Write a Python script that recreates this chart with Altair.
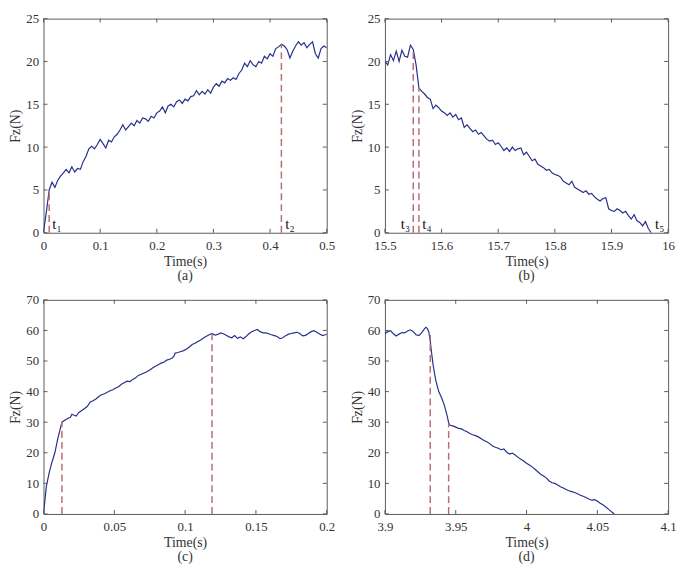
import altair as alt
import pandas as pd

FONT = "Liberation Serif"
LINE = "#27308a"
DASH = "#bb6e72"
FRAME = "#5a5a5a"
TXT = "#333333"
W, H = 287, 217

# ---------------- panel (a) ----------------
a_time = [0.000, 0.005, 0.010, 0.015, 0.020, 0.025, 0.030, 0.035, 0.040, 0.045,
          0.050, 0.055, 0.060, 0.065, 0.070, 0.075, 0.080, 0.085, 0.090, 0.095,
          0.100, 0.105, 0.110, 0.115, 0.120, 0.125, 0.130, 0.135, 0.140, 0.145,
          0.150, 0.155, 0.160, 0.165, 0.170, 0.175, 0.180, 0.185, 0.190, 0.195,
          0.200, 0.205, 0.210, 0.215, 0.220, 0.225, 0.230, 0.235, 0.240, 0.245,
          0.250, 0.255, 0.260, 0.265, 0.270, 0.275, 0.280, 0.285, 0.290, 0.295,
          0.300, 0.305, 0.310, 0.315, 0.320, 0.325, 0.330, 0.335, 0.340, 0.345,
          0.350, 0.355, 0.360, 0.365, 0.370, 0.375, 0.380, 0.385, 0.390, 0.395,
          0.400, 0.405, 0.410, 0.415, 0.420, 0.425, 0.430, 0.435, 0.440, 0.445,
          0.450, 0.455, 0.460, 0.465, 0.470, 0.475, 0.480, 0.485, 0.490, 0.495,
          0.500]
a_force = [0.1, 2.4, 5.0, 5.9, 5.3, 6.1, 6.6, 7.0, 7.4, 7.0,
           7.7, 7.1, 7.5, 7.4, 8.3, 8.9, 9.8, 10.1, 9.8, 10.3,
           10.9, 10.4, 9.9, 10.8, 10.6, 11.2, 11.5, 12.0, 12.6, 12.0,
           12.4, 12.8, 12.5, 13.1, 12.8, 13.4, 13.3, 13.0, 13.6, 13.4,
           14.0, 14.2, 14.7, 14.0, 14.8, 15.0, 14.7, 15.3, 15.5, 15.1,
           15.6, 15.4, 15.9, 16.0, 16.6, 16.1, 16.5, 16.2, 16.7, 16.3,
           17.0, 17.4, 17.1, 17.7, 17.5, 18.0, 17.8, 18.1, 17.9, 18.6,
           19.0, 19.8, 19.4, 20.1, 19.6, 19.4, 20.0, 19.8, 20.6, 20.3,
           20.9, 20.6, 21.5, 21.7, 22.0, 21.8, 21.4, 20.4, 21.2, 21.8,
           22.3, 21.9, 22.2, 21.6, 22.0, 22.3, 20.9, 20.4, 21.5, 21.8,
           21.6]
a_mark_t = [0.010, 0.420]
a_mark_f = [5.0, 22.0]
a_lab_t = [0.0155, 0.427]
a_lab_f = [0.45, 0.45]
a_lab = ["t\u2081", "t\u2082"]

# ---------------- panel (b) ----------------
b_time = [15.500, 15.505, 15.510, 15.515, 15.520, 15.525, 15.530, 15.535, 15.540, 15.545,
          15.550, 15.555, 15.560, 15.565, 15.570, 15.575, 15.580, 15.585, 15.590, 15.595,
          15.600, 15.605, 15.610, 15.615, 15.620, 15.625, 15.630, 15.635, 15.640, 15.645,
          15.650, 15.655, 15.660, 15.665, 15.670, 15.675, 15.680, 15.685, 15.690, 15.695,
          15.700, 15.705, 15.710, 15.715, 15.720, 15.725, 15.730, 15.735, 15.740, 15.745,
          15.750, 15.755, 15.760, 15.765, 15.770, 15.775, 15.780, 15.785, 15.790, 15.795,
          15.800, 15.805, 15.810, 15.815, 15.820, 15.825, 15.830, 15.835, 15.840, 15.845,
          15.850, 15.855, 15.860, 15.865, 15.870, 15.875, 15.880, 15.885, 15.890, 15.895,
          15.900, 15.905, 15.910, 15.915, 15.920, 15.925, 15.930, 15.935, 15.940, 15.945,
          15.950, 15.955, 15.960, 15.965, 15.970]
b_force = [20.0, 19.6, 20.8, 20.1, 21.2, 20.0, 21.3, 20.6, 20.5, 21.9,
           21.4, 19.6, 16.9, 16.5, 16.2, 15.8, 15.6, 14.5, 14.9, 14.6,
           14.2, 14.0, 13.7, 14.0, 13.5, 13.8, 13.2, 13.4, 12.3, 12.6,
           12.2, 11.8, 12.0, 11.5, 11.7, 11.3, 10.9, 10.7, 10.8, 10.3,
           10.5, 10.1, 9.6, 9.9, 9.5, 10.0, 9.6, 9.8, 9.9, 9.1,
           9.4, 8.9, 8.4, 8.6, 8.0, 7.8, 7.6, 7.3, 7.4, 7.0,
           6.8, 6.7, 6.5, 6.0, 5.8, 5.6, 6.0, 5.3, 5.1, 4.9,
           4.7, 4.9, 4.5, 4.6, 4.2, 3.9, 3.7, 4.0, 4.1, 2.8,
           2.6, 2.5, 2.8, 2.6, 2.3, 2.5, 2.0, 1.6, 2.1, 1.4,
           1.2, 0.8, 1.3, 0.5, 0.0]
b_mark_t = [15.550, 15.560]
b_mark_f = [21.3, 16.9]
b_lab_t = [15.528, 15.566, 15.977]
b_lab_f = [0.45, 0.45, 0.45]
b_lab = ["t\u2083", "t\u2084", "t\u2085"]

# ---------------- panel (c) ----------------
c_time = [0.000, 0.002, 0.004, 0.006, 0.008, 0.010, 0.013, 0.015, 0.017, 0.019,
          0.020, 0.022, 0.023, 0.025, 0.027, 0.029, 0.031, 0.033, 0.035, 0.037,
          0.039, 0.041, 0.043, 0.045, 0.047, 0.049, 0.051, 0.053, 0.055, 0.057,
          0.059, 0.061, 0.063, 0.065, 0.067, 0.069, 0.071, 0.073, 0.075, 0.077,
          0.079, 0.081, 0.083, 0.085, 0.087, 0.089, 0.091, 0.092, 0.093, 0.095,
          0.097, 0.099, 0.101, 0.103, 0.105, 0.107, 0.109, 0.111, 0.113, 0.115,
          0.117, 0.119, 0.121, 0.123, 0.125, 0.127, 0.129, 0.131, 0.133, 0.135,
          0.137, 0.139, 0.141, 0.143, 0.145, 0.147, 0.149, 0.151, 0.153, 0.155,
          0.157, 0.159, 0.161, 0.163, 0.165, 0.167, 0.169, 0.171, 0.173, 0.175,
          0.177, 0.179, 0.181, 0.183, 0.185, 0.187, 0.189, 0.191, 0.193, 0.195,
          0.197, 0.199, 0.200]
c_force = [0.0, 9.0, 13.5, 17.0, 20.0, 24.5, 30.0, 30.6, 31.2, 31.6,
           32.6, 32.2, 32.0, 33.2, 33.8, 34.5, 35.2, 36.6, 37.0, 37.6,
           38.4, 39.0, 39.3, 39.8, 40.3, 40.6, 41.2, 41.6, 42.4, 42.9,
           43.4, 43.3, 44.0, 44.5, 45.3, 45.7, 46.1, 46.5, 47.1, 47.7,
           48.3, 48.8, 49.3, 49.6, 50.3, 50.6, 51.0, 51.5, 52.6, 52.8,
           53.1, 53.4, 53.9, 54.6, 55.4, 55.8, 56.4, 56.9, 57.5, 58.1,
           58.6, 59.0, 58.5, 58.7, 59.2, 58.9, 58.4, 57.9, 57.6, 58.3,
           57.4, 57.9, 57.3, 58.0, 58.9, 59.6, 60.0, 60.3, 59.6, 59.2,
           59.2, 58.9, 58.6, 58.3, 58.0, 57.3, 57.6, 58.3, 58.8, 59.0,
           59.2, 59.4, 59.0, 58.2, 58.4, 59.0, 59.6, 59.9, 59.4, 58.8,
           58.3, 58.6, 58.8]
c_mark_t = [0.013, 0.119]
c_mark_f = [30.0, 59.0]

# ---------------- panel (d) ----------------
d_time = [3.900, 3.902, 3.904, 3.906, 3.908, 3.910, 3.912, 3.914, 3.916, 3.918,
          3.920, 3.922, 3.924, 3.926, 3.928, 3.929, 3.930, 3.931, 3.932, 3.933,
          3.934, 3.935, 3.936, 3.938, 3.940, 3.942, 3.944, 3.945, 3.946, 3.948,
          3.950, 3.952, 3.954, 3.956, 3.958, 3.960, 3.962, 3.964, 3.966, 3.968,
          3.970, 3.972, 3.974, 3.976, 3.978, 3.980, 3.982, 3.984, 3.986, 3.988,
          3.990, 3.992, 3.994, 3.996, 3.998, 4.000, 4.002, 4.004, 4.006, 4.008,
          4.010, 4.012, 4.014, 4.016, 4.018, 4.020, 4.022, 4.024, 4.026, 4.028,
          4.030, 4.032, 4.034, 4.036, 4.038, 4.040, 4.042, 4.044, 4.046, 4.048,
          4.050, 4.052, 4.054, 4.056, 4.058, 4.060, 4.062]
d_force = [59.0, 59.6, 59.9, 58.9, 58.2, 58.8, 59.3, 59.2, 59.8, 60.2,
           59.6, 58.6, 58.3, 59.3, 60.6, 61.0, 60.6, 59.5, 56.5, 52.5,
           48.8, 46.0, 43.5, 40.0, 38.0, 35.5, 32.0, 29.8, 29.0, 28.8,
           28.4, 28.0, 27.8, 27.3, 26.9, 26.3, 25.9, 25.6, 25.2, 24.6,
           24.0, 23.6, 23.0, 22.2, 21.8, 21.5, 21.0, 21.3, 20.2, 19.6,
           19.9, 19.3, 18.5, 17.9, 17.3, 16.6, 16.0, 15.4, 14.6, 13.8,
           13.0, 12.4, 11.8, 10.8, 10.2, 10.0, 9.5, 8.9, 8.5, 8.0,
           7.6, 7.3, 7.0, 6.6, 6.1, 5.8, 5.4, 4.9, 4.5, 4.7,
           4.2, 3.5, 3.0, 2.3, 1.5, 0.7, 0.0]
d_mark_t = [3.932, 3.945]
d_mark_f = [58.5, 29.5]

# ---------------- ticks ----------------
a_xticks = [0, 0.1, 0.2, 0.3, 0.4, 0.5]
b_xticks = [15.5, 15.6, 15.7, 15.8, 15.9, 16]
c_xticks = [0, 0.05, 0.1, 0.15, 0.2]
d_xticks = [3.9, 3.95, 4, 4.05, 4.1]
ab_yticks = [0, 5, 10, 15, 20, 25]
cd_yticks = [0, 10, 20, 30, 40, 50, 60, 70]


def panel(time, force, xdom, ydom, xticks, yticks, mark_t, mark_f,
          lab_t, lab_f, labs, caption):
    xs = alt.Scale(domain=xdom, nice=False, zero=False, padding=0)
    ys = alt.Scale(domain=ydom, nice=False, zero=False, padding=0)
    xax = alt.Axis(values=xticks, format="~g", title="Time(s)",
                   labelFlush=False)
    yax = alt.Axis(values=yticks, title="Fz(N)", labelFlush=False)

    def X(field):
        return alt.X(field, type="quantitative", scale=xs, axis=xax)

    def Y(field):
        return alt.Y(field, type="quantitative", scale=ys, axis=yax)

    df = pd.DataFrame({"t": time, "f": force})
    line = alt.Chart(df).mark_line(color=LINE, strokeWidth=1.2,
                                   clip=True).encode(x=X("t"), y=Y("f"))

    mdf = pd.DataFrame({"t": mark_t, "base": [0] * len(mark_t), "f": mark_f})
    dash = alt.Chart(mdf).mark_rule(color=DASH, strokeDash=[7, 4],
                                    strokeWidth=1.5).encode(
        x=X("t"), y=Y("base"), y2="f:Q")

    xt = pd.DataFrame({"t": xticks})
    yt = pd.DataFrame({"f": yticks})
    tb = alt.Chart(xt).mark_rule(color=FRAME).encode(
        x=X("t"), y=alt.value(H), y2=alt.value(H - 4))
    tt = alt.Chart(xt).mark_rule(color=FRAME).encode(
        x=X("t"), y=alt.value(0), y2=alt.value(4))
    tl = alt.Chart(yt).mark_rule(color=FRAME).encode(
        y=Y("f"), x=alt.value(0), x2=alt.value(4))
    tr = alt.Chart(yt).mark_rule(color=FRAME).encode(
        y=Y("f"), x=alt.value(W), x2=alt.value(W - 4))

    layers = [line, dash, tb, tt, tl, tr]
    if labs:
        ldf = pd.DataFrame({"t": lab_t, "f": lab_f, "lab": labs})
        txt = alt.Chart(ldf).mark_text(
            align="left", baseline="alphabetic", font=FONT, fontSize=15,
            color="#111111").encode(x=X("t"), y=Y("f"), text="lab:N")
        layers.append(txt)

    return alt.layer(*layers).properties(
        width=W, height=H,
        title=alt.TitleParams(caption, orient="bottom", font=FONT,
                              fontSize=14, fontWeight="normal", color=TXT,
                              offset=1))


pa = panel(a_time, a_force, [0, 0.5], [0, 25], a_xticks, ab_yticks,
           a_mark_t, a_mark_f, a_lab_t, a_lab_f, a_lab, "(a)")
pb = panel(b_time, b_force, [15.5, 16], [0, 25], b_xticks, ab_yticks,
           b_mark_t, b_mark_f, b_lab_t, b_lab_f, b_lab, "(b)")
pc = panel(c_time, c_force, [0, 0.2], [0, 70], c_xticks, cd_yticks,
           c_mark_t, c_mark_f, [], [], [], "(c)")
pd_ = panel(d_time, d_force, [3.9, 4.1], [0, 70], d_xticks, cd_yticks,
            d_mark_t, d_mark_f, [], [], [], "(d)")

chart = alt.concat(
    pa, pb, pc, pd_, columns=2,
    spacing={"row": 68, "column": 59}, bounds="flush"
).properties(
    padding=0
).configure_view(
    stroke=FRAME, strokeWidth=1
).configure_axis(
    ticks=False, domain=False, grid=False,
    labelFont=FONT, labelFontSize=13, labelColor=TXT, labelPadding=5,
    titleFont=FONT, titleFontSize=14, titleFontWeight="normal",
    titleColor=TXT, titlePadding=3
).configure_axisX(
    labelPadding=7, titlePadding=2
)

chart.save("out.html", embed_options={"renderer": "svg", "actions": False})
